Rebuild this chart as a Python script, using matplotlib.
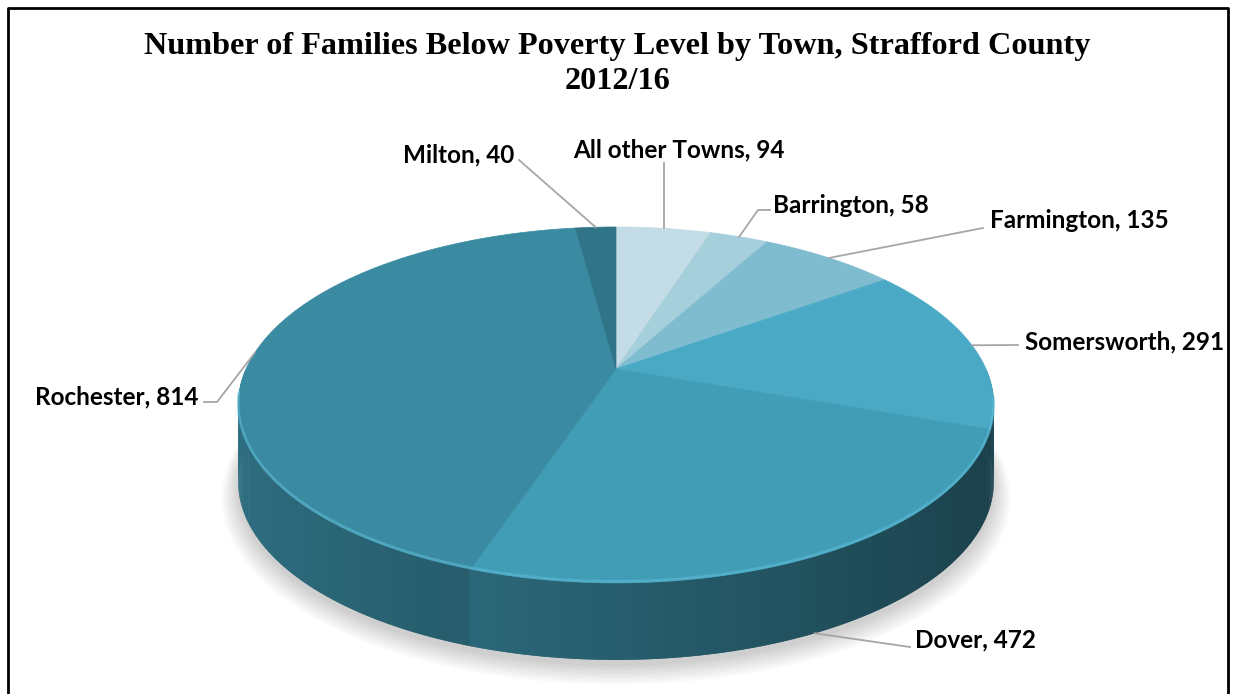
import numpy as np
import matplotlib
matplotlib.use("Agg")
import matplotlib.pyplot as plt
from matplotlib.patches import Polygon

# data, clockwise from 12 o'clock
towns = ["All other Towns", "Barrington", "Farmington", "Somersworth", "Dover", "Rochester", "Milton"]
families = [94, 58, 135, 291, 472, 814, 40]
top_colors = ["#c3dce5", "#a6cfdc", "#80bcd0", "#4aaac6", "#419cb6", "#3a8ba2", "#2f7489"]

TITLE = "Number of Families Below Poverty Level by Town, Strafford County\n2012/16"

# pie layout in pixel space (perspective circle)
CX, CY = 616, 369
A, B, S = 370, 170.7, 0.202
DEPTH = 77


def proj(theta, r=1.0, drop=0.0):
    t = np.radians(theta)
    d = 1 + S * r * np.cos(t)
    return CX + A * r * np.sin(t) / d, CY - B * r * np.cos(t) / d + drop


def shade(hexcol, f):
    rgb = np.array(matplotlib.colors.to_rgb(hexcol))
    return tuple(np.clip(rgb * f, 0, 1))


vals = np.array(families, dtype=float)
edges = np.concatenate([[0], np.cumsum(vals) / vals.sum() * 360])
mids = (edges[:-1] + edges[1:]) / 2


def slice_of(theta):
    return int(np.searchsorted(edges, theta, side="right") - 1)


fig = plt.figure(figsize=(12.35, 6.94), dpi=100)
ax = fig.add_axes([0, 0, 1, 1])
ax.set_xlim(0, 1235)
ax.set_ylim(694, 0)
ax.axis("off")

# soft shadow under the pie
ring = np.linspace(0, 360, 361)
for k in range(8):
    r = 1.0 + 0.006 * k
    xs, ys = proj(ring, r, DEPTH + 6 + k)
    ax.add_patch(Polygon(np.c_[xs, ys], closed=True, fc="#000000", ec="none", alpha=0.025, zorder=1))

# side wall, back to front; quads overlap a little so no seams show
step = 0.5
thetas = np.arange(90, 270, step)
thetas = sorted(thetas, key=lambda t: -np.cos(np.radians(t + step / 2)))
for t in thetas:
    c = t + step / 2
    tt = np.array([c - step * 0.9, c + step * 0.9])
    x0, y0 = proj(tt)
    x1, y1 = proj(tt[::-1], drop=DEPTH)
    xn = np.sin(np.radians(c))
    col = shade(top_colors[slice_of(c)], 0.6 - 0.2 * xn)
    ax.add_patch(Polygon(np.c_[np.r_[x0, x1], np.r_[y0, y1]], closed=True,
                         fc=col, ec="none", zorder=2))

# top face wedges
for i in range(len(towns)):
    arc = np.linspace(edges[i], edges[i + 1], 120)
    xs, ys = proj(arc)
    pts = np.c_[np.r_[CX, xs], np.r_[CY, ys]]
    ax.add_patch(Polygon(pts, closed=True, fc=top_colors[i], ec=top_colors[i], lw=0.5, zorder=3))

# bevel highlight on the front rim
rim = np.linspace(100, 262, 200)
xs, ys = proj(rim)
ax.plot(xs, ys - 1.5, color="#62c0db", lw=2.0, alpha=0.5, zorder=4, solid_capstyle="round")

# labels with leader lines (elbows are layout)
label_font = dict(family=["Lato", "DejaVu Sans"], fontsize=17.5, fontweight="bold", color="black")
lead = dict(color="#a6a6a6", lw=1.3, zorder=5)
layout = {
    "All other Towns": dict(text=(679, 150), ha="center", path=[(None, 163)]),
    "Barrington": dict(text=(773, 205), ha="left", path=[(758, 210), (770, 210)]),
    "Farmington": dict(text=(990, 220), ha="left", path=[(983, 228)]),
    "Somersworth": dict(text=(1025, 342), ha="left", path=[(1018, 345)]),
    "Dover": dict(text=(915, 640), ha="left", path=[(910, 647)]),
    "Rochester": dict(text=(198, 397), ha="right", path=[(217, 402), (204, 402)]),
    "Milton": dict(text=(514, 155), ha="right", path=[(519, 160)]),
}
for i, name in enumerate(towns):
    lay = layout[name]
    drop = DEPTH if name == "Dover" else 0.0
    sx, sy = proj(mids[i], drop=drop)
    px, py = [sx], [sy]
    for ex, ey in lay["path"]:
        px.append(sx if ex is None else ex)
        py.append(ey)
    ax.plot(px, py, **lead)
    ax.text(lay["text"][0], lay["text"][1], f"{name}, {families[i]}",
            ha=lay["ha"], va="center", zorder=6, **label_font)

ax.text(617, 64, TITLE, ha="center", va="center", family="Liberation Serif",
        fontsize=23.2, fontweight="bold", linespacing=1.3)

# chart frame
ax.plot([8, 8, 1228, 1228], [700, 8, 8, 700], color="black", lw=2, zorder=7)

fig.savefig("out.png", dpi=100)
